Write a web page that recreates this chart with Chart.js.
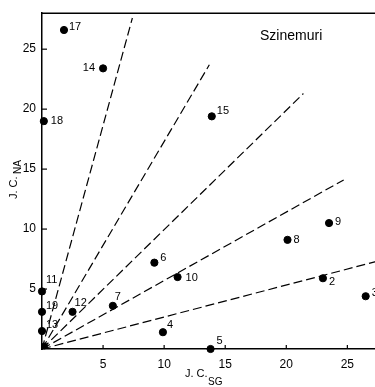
<!DOCTYPE html>
<html>
<head>
<meta charset="utf-8">
<script src="https://cdn.jsdelivr.net/npm/chart.js@4.4.1/dist/chart.umd.min.js"></script>
<style>
  html, body { margin: 0; padding: 0; background: #fff; overflow: hidden; width: 375px; height: 387px; }
  #wrap { width: 390px; height: 387px; }
</style>
</head>
<body>
<div id="wrap"><canvas id="c" width="390" height="387"></canvas></div>
<script>
// ---- data ----
const pointIds = ['17','14','18','15','6','8','9','10','2','3','4','5','7','12','11','19','13'];
const jcSG = [1.8, 5.0, 0.15, 13.9, 9.2, 20.1, 23.5, 11.1, 23.0, 26.5, 9.9, 13.8, 5.8, 2.5, 0.0, 0.0, 0.0];
const jcNA = [26.6, 23.4, 19.0, 19.4, 7.2, 9.1, 10.5, 6.0, 5.9, 4.4, 1.4, 0.0, 3.6, 3.1, 4.8, 3.1, 1.5];
const originSG = [0.2];
const originNA = [0.25];
// dashed reference lines from the origin (end points)
const refEndSG = [28.5, 24.7, 21.4, 13.7, 7.4];
const refEndNA = [7.6, 14.1, 21.3, 23.7, 27.6];
const xTicks = [5, 10, 15, 20, 25];
const yTicks = [5, 10, 15, 20, 25];
const titleText = 'Szinemuri';

// label offsets (style only)
const labelOffsets = {
  '17': [5, -3], '14': [-8, 0, 'right'], '18': [7, 0], '15': [5, -5], '6': [6, -5],
  '8': [6, 0], '9': [6, -1], '10': [8, 1], '2': [6, 4], '3': [6, -3], '4': [4, -7],
  '5': [6, -8], '7': [2, -9], '12': [2, -9], '11': [4, -11], '19': [4, -6], '13': [4, -6]
};

const FONT = '"Liberation Sans", Arial, sans-serif';

const datasets = [];
for (let i = 0; i < refEndSG.length; i++) {
  datasets.push({
    type: 'line',
    data: [{x: 0, y: 0}, {x: refEndSG[i], y: refEndNA[i]}],
    borderColor: '#000',
    borderWidth: 1.2,
    borderDash: [9, 4],
    pointRadius: 0,
    fill: false,
    clip: false
  });
}
datasets.push({
  type: 'scatter',
  data: jcSG.map((v, i) => ({x: v, y: jcNA[i], id: pointIds[i]})),
  backgroundColor: '#000',
  borderColor: '#000',
  pointRadius: 3.6,
  pointHoverRadius: 3.6,
  clip: false
});
datasets.push({
  type: 'scatter',
  data: originSG.map((v, i) => ({x: v, y: originNA[i]})),
  backgroundColor: '#000',
  borderColor: '#000',
  pointRadius: 3,
  clip: false
});

const decor = {
  id: 'decor',
  afterDraw(chart) {
    const ctx = chart.ctx;
    const xs = chart.scales.x, ys = chart.scales.y;
    const a = chart.chartArea;
    ctx.save();
    ctx.strokeStyle = '#000';
    ctx.lineWidth = 1.5;
    // top frame
    ctx.beginPath();
    ctx.moveTo(a.left, a.top);
    ctx.lineTo(a.right + 10, a.top);
    ctx.stroke();
    // inward ticks
    ctx.lineWidth = 1.2;
    xTicks.forEach(v => {
      const px = xs.getPixelForValue(v);
      ctx.beginPath(); ctx.moveTo(px, a.bottom); ctx.lineTo(px, a.bottom - 4); ctx.stroke();
    });
    yTicks.forEach(v => {
      const py = ys.getPixelForValue(v);
      ctx.beginPath(); ctx.moveTo(a.left, py); ctx.lineTo(a.left + 5, py); ctx.stroke();
    });
    // point labels
    ctx.fillStyle = '#000';
    ctx.font = '11px ' + FONT;
    ctx.textBaseline = 'middle';
    const meta = chart.getDatasetMeta(refEndSG.length);
    meta.data.forEach((el, i) => {
      const id = pointIds[i];
      const off = labelOffsets[id] || [6, 0];
      ctx.textAlign = off[2] || 'left';
      ctx.fillText(id, el.x + off[0], el.y + off[1]);
    });
    // title
    ctx.font = '14px ' + FONT;
    ctx.textAlign = 'left';
    ctx.textBaseline = 'alphabetic';
    ctx.fillText(titleText, 260, 40);
    // x axis label
    ctx.font = '11px ' + FONT;
    ctx.fillText('J. C.', 185, 377);
    ctx.font = '10px ' + FONT;
    ctx.fillText('SG', 208, 385);
    // y axis label
    ctx.save();
    ctx.translate(17, 199);
    ctx.rotate(-Math.PI / 2);
    ctx.font = '11px ' + FONT;
    ctx.fillText('J. C.', 0, 0);
    ctx.font = '10px ' + FONT;
    ctx.fillText('NA', 25, 4);
    ctx.restore();
    ctx.restore();
  }
};

new Chart(document.getElementById('c'), {
  type: 'scatter',
  data: { datasets },
  options: {
    responsive: false,
    animation: false,
    events: [],
    layout: { padding: { top: 7, right: 6, left: 0, bottom: 0 } },
    plugins: { legend: { display: false }, tooltip: { enabled: false } },
    scales: {
      x: {
        type: 'linear', min: 0, max: 28,
        afterFit(s) { s.height = 38; },
        afterBuildTicks(s) { s.ticks = xTicks.map(v => ({value: v})); },
        grid: { display: false, drawTicks: false },
        border: { display: true, color: '#000', width: 1.5 },
        ticks: { color: '#000', font: { size: 12, family: FONT }, padding: 8, maxRotation: 0 }
      },
      y: {
        type: 'linear', min: 0, max: 28,
        afterFit(s) { s.width = 42; },
        afterBuildTicks(s) { s.ticks = yTicks.map(v => ({value: v})); },
        grid: { display: false, drawTicks: false },
        border: { display: true, color: '#000', width: 1.5 },
        ticks: { color: '#000', font: { size: 12, family: FONT }, padding: 6 }
      }
    }
  },
  plugins: [decor]
});
</script>
</body>
</html>
